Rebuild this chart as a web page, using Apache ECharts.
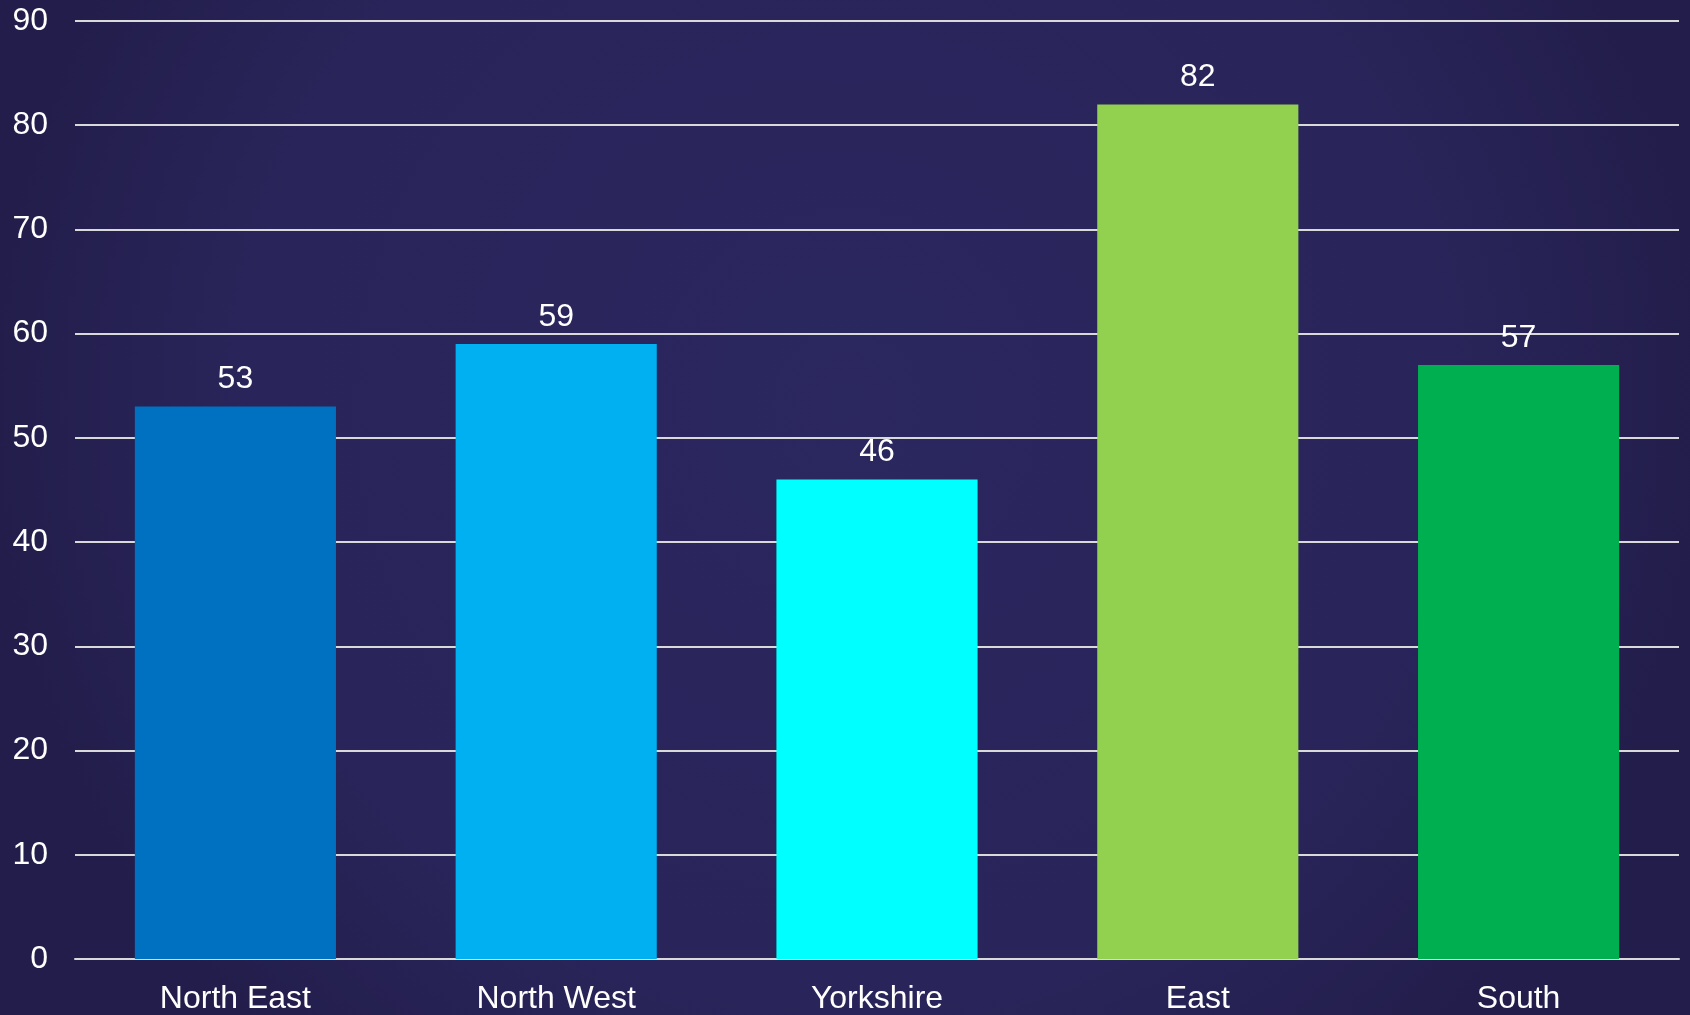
<!DOCTYPE html>
<html><head><meta charset="utf-8">
<script src="https://cdn.jsdelivr.net/npm/echarts@6/dist/echarts.min.js"></script>
<style>html,body{margin:0;padding:0;}#c{width:1690px;height:1015px;}</style>
</head><body><div id="c"></div>
<script>
const categories = ["North East", "North West", "Yorkshire", "East", "South"];
const values = [53, 59, 46, 82, 57];
const barColors = ["#0070C0", "#00B0F0", "#00FFFF", "#92D050", "#00B050"];

const chart = echarts.init(document.getElementById('c'));
chart.setOption({
  animation: false,
  backgroundColor: {
    type: 'radial', x: 0.5, y: 0.4, r: 0.85,
    colorStops: [{offset: 0, color: '#2b275f'}, {offset: 0.7, color: '#29255a'}, {offset: 1, color: '#221d4a'}]
  },
  grid: {left: 75, right: 11, top: 21, bottom: 55, containLabel: false},
  xAxis: {
    type: 'category', data: categories,
    axisLine: {show: true, lineStyle: {color: '#d9d9d9', width: 2}},
    axisTick: {show: false},
    axisLabel: {color: '#ffffff', fontSize: 32, fontFamily: 'Liberation Sans, Arial', margin: 24}
  },
  yAxis: {
    type: 'value', min: 0, max: 90, interval: 10,
    axisLine: {show: false}, axisTick: {show: false},
    splitLine: {lineStyle: {color: '#d9d9d9', width: 2}},
    axisLabel: {color: '#ffffff', fontSize: 32, fontFamily: 'Liberation Sans, Arial', margin: 27}
  },
  series: [{
    type: 'bar', barWidth: '62.7%',
    data: values.map((v, i) => ({value: v, itemStyle: {color: barColors[i]}})),
    label: {show: true, position: 'top', distance: 11, color: '#ffffff', fontSize: 32, fontFamily: 'Liberation Sans, Arial'}
  }]
});
</script></body></html>
